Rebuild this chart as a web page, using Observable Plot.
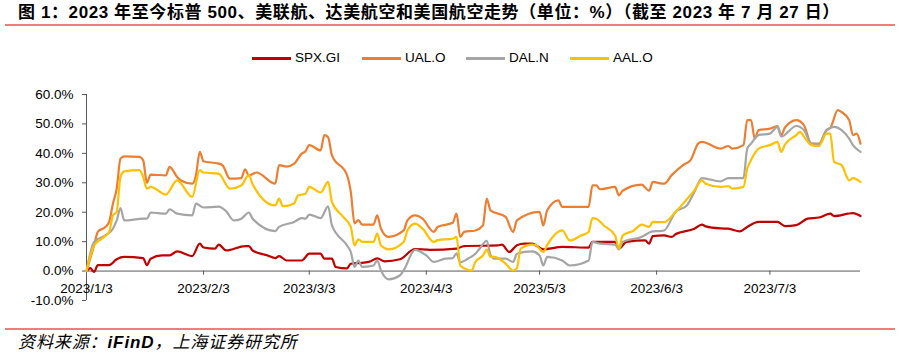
<!DOCTYPE html>
<html><head><meta charset="utf-8">
<script src="https://cdn.jsdelivr.net/npm/d3@7"></script>
<script src="https://cdn.jsdelivr.net/npm/@observablehq/plot@0.6"></script>
<style>
html,body{margin:0;padding:0;background:#fff}
body{width:901px;height:356px;position:relative;overflow:hidden;font-family:"Liberation Sans","Noto Sans CJK SC",sans-serif;color:#000}
#title{position:absolute;left:18px;top:2px;font-size:17px;letter-spacing:0.6px;font-weight:bold;white-space:nowrap;line-height:22px;font-family:"Liberation Sans","Noto Sans CJK SC",sans-serif}
.rule{position:absolute;left:5px;width:890px;height:2px;background:#f37b7b}
.sw{position:absolute;top:57px;width:39px;height:2.5px}
.lt{position:absolute;top:50px;font-size:13.5px;line-height:16px;white-space:nowrap}
#chart{position:absolute;left:0;top:66px}
#source{position:absolute;left:18px;top:331px;font-size:17px;letter-spacing:0.9px;font-style:italic;white-space:nowrap;line-height:20px;font-family:"Noto Sans CJK SC",sans-serif}
#source b{font-family:"Liberation Sans",sans-serif;font-weight:bold}
</style></head>
<body>
<div id="title">图 1：2023 年至今标普 500、美联航、达美航空和美国航空走势（单位：%）（截至 2023 年 7 月 27 日）</div>
<div class="rule" style="top:24px"></div>
<div id="legend"></div>
<div id="chart"></div>
<div class="rule" style="top:328px"></div>
<div id="source">资料来源：<b>iFinD</b>，上海证券研究所</div>
<script>
const seriesNames = ["SPX.GI", "UAL.O", "DAL.N", "AAL.O"];
const seriesColors = ["#C00000", "#ED7D31", "#A5A5A5", "#FFC000"];
const xTickLabels = ["2023/1/3", "2023/2/3", "2023/3/3", "2023/4/3", "2023/5/3", "2023/6/3", "2023/7/3"];
const yTicks = [-10, 0, 10, 20, 30, 40, 50, 60];
const dateRange = ["2023-01-03", "2023-07-27"];

const SPX = [["2023-01-03",0],["2023-01-04",1.0],["2023-01-05",-0.3],["2023-01-06",2.0],["2023-01-09",2.0],["2023-01-11",4.0],["2023-01-13",4.8],["2023-01-18",4.4],["2023-01-19",2.0],["2023-01-20",4.2],["2023-01-23",5.3],["2023-01-25",5.3],["2023-01-27",6.7],["2023-01-31",5.1],["2023-02-02",9.3],["2023-02-03",8.0],["2023-02-06",7.6],["2023-02-07",9.0],["2023-02-09",7.0],["2023-02-14",8.5],["2023-02-15",8.5],["2023-02-16",7.0],["2023-02-20",5.3],["2023-02-22",4.4],["2023-02-23",5.1],["2023-02-25",3.6],["2023-03-01",3.6],["2023-03-03",5.9],["2023-03-06",5.9],["2023-03-07",4.2],["2023-03-09",4.2],["2023-03-10",1.4],["2023-03-13",0.9],["2023-03-14",2.5],["2023-03-17",2.8],["2023-03-19",3.2],["2023-03-21",4.3],["2023-03-23",3.3],["2023-03-27",4.0],["2023-03-31",7.5],["2023-04-04",7.2],["2023-04-11",7.6],["2023-04-13",8.5],["2023-04-22",8.7],["2023-04-23",9.0],["2023-04-25",6.5],["2023-04-27",8.8],["2023-04-29",9.3],["2023-05-01",9.3],["2023-05-04",7.4],["2023-05-09",8.2],["2023-05-16",8.0],["2023-05-17",9.9],["2023-05-23",9.9],["2023-05-24",7.6],["2023-05-26",9.9],["2023-05-31",10.4],["2023-06-01",9.3],["2023-06-02",11.9],["2023-06-05",12.1],["2023-06-07",11.6],["2023-06-08",12.5],["2023-06-13",14.4],["2023-06-15",15.8],["2023-06-16",15.2],["2023-06-20",14.5],["2023-06-22",14.4],["2023-06-25",13.5],["2023-06-27",15.0],["2023-06-30",16.7],["2023-07-05",16.7],["2023-07-07",15.3],["2023-07-10",15.6],["2023-07-13",17.8],["2023-07-16",18.2],["2023-07-19",19.5],["2023-07-20",18.7],["2023-07-25",19.7],["2023-07-27",18.7]];

const UAL = [["2023-01-03",0],["2023-01-05",8.7],["2023-01-06",13.3],["2023-01-08",15.0],["2023-01-09",16.7],["2023-01-10",22.9],["2023-01-11",28.0],["2023-01-12",38.2],["2023-01-13",39.0],["2023-01-17",38.8],["2023-01-18",37.7],["2023-01-19",30.0],["2023-01-20",32.8],["2023-01-24",32.5],["2023-01-25",35.4],["2023-01-27",32.0],["2023-01-28",30.8],["2023-01-31",29.7],["2023-02-01",32.6],["2023-02-02",40.5],["2023-02-03",37.3],["2023-02-07",36.5],["2023-02-08",36.0],["2023-02-10",31.4],["2023-02-13",31.6],["2023-02-14",34.6],["2023-02-15",32.5],["2023-02-17",33.5],["2023-02-22",29.7],["2023-02-23",36.0],["2023-02-25",35.5],["2023-02-27",36.5],["2023-03-01",39.9],["2023-03-02",40.7],["2023-03-03",42.8],["2023-03-06",41.0],["2023-03-07",46.2],["2023-03-08",45.5],["2023-03-09",39.4],["2023-03-13",32.6],["2023-03-14",26.9],["2023-03-15",16.2],["2023-03-16",17.3],["2023-03-17",15.8],["2023-03-20",15.8],["2023-03-21",18.9],["2023-03-22",14.4],["2023-03-24",11.6],["2023-03-28",13.8],["2023-03-29",17.2],["2023-03-31",18.9],["2023-04-02",17.8],["2023-04-05",13.3],["2023-04-06",15.0],["2023-04-10",16.4],["2023-04-11",19.5],["2023-04-12",11.6],["2023-04-13",13.3],["2023-04-16",13.8],["2023-04-18",15.5],["2023-04-19",24.6],["2023-04-20",20.6],["2023-04-24",18.4],["2023-04-26",13.3],["2023-04-27",17.2],["2023-05-03",20.1],["2023-05-04",15.5],["2023-05-05",20.6],["2023-05-08",24.0],["2023-05-09",21.8],["2023-05-16",21.8],["2023-05-17",29.1],["2023-05-18",29.1],["2023-05-19",27.8],["2023-05-23",28.6],["2023-05-24",25.7],["2023-05-25",27.3],["2023-05-30",29.4],["2023-06-01",27.3],["2023-06-02",30.3],["2023-06-04",29.8],["2023-06-05",29.7],["2023-06-07",32.6],["2023-06-10",36.0],["2023-06-12",37.7],["2023-06-14",43.3],["2023-06-15",43.9],["2023-06-20",41.6],["2023-06-22",42.5],["2023-06-23",41.6],["2023-06-26",42.8],["2023-06-27",51.3],["2023-06-28",51.3],["2023-06-29",45.0],["2023-06-30",47.9],["2023-07-03",48.4],["2023-07-05",49.3],["2023-07-06",46.2],["2023-07-07",48.8],["2023-07-10",51.3],["2023-07-12",49.6],["2023-07-14",43.3],["2023-07-16",43.3],["2023-07-18",47.9],["2023-07-19",48.6],["2023-07-21",54.7],["2023-07-22",54.0],["2023-07-24",51.3],["2023-07-25",46.2],["2023-07-26",46.7],["2023-07-27",43.3]];

const DAL = [["2023-01-03",0],["2023-01-05",9.9],["2023-01-08",12.1],["2023-01-10",14.4],["2023-01-11",17.2],["2023-01-12",21.4],["2023-01-13",17.2],["2023-01-18",17.8],["2023-01-19",17.8],["2023-01-20",19.9],["2023-01-24",19.5],["2023-01-25",21.0],["2023-01-27",19.5],["2023-01-31",18.9],["2023-02-01",22.9],["2023-02-03",21.6],["2023-02-07",21.9],["2023-02-09",20.3],["2023-02-11",17.2],["2023-02-13",17.8],["2023-02-15",19.9],["2023-02-16",17.8],["2023-02-22",13.6],["2023-02-23",15.0],["2023-02-27",16.7],["2023-03-01",18.0],["2023-03-02",17.8],["2023-03-03",19.2],["2023-03-06",18.0],["2023-03-08",22.0],["2023-03-09",15.5],["2023-03-13",8.7],["2023-03-14",6.5],["2023-03-15",1.4],["2023-03-16",3.6],["2023-03-17",1.4],["2023-03-20",1.9],["2023-03-21",3.6],["2023-03-22",0.2],["2023-03-24",-2.8],["2023-03-27",-1.5],["2023-03-28",0.2],["2023-03-31",7.2],["2023-04-03",5.3],["2023-04-05",3.1],["2023-04-08",4.2],["2023-04-10",4.4],["2023-04-11",6.0],["2023-04-12",3.0],["2023-04-14",4.2],["2023-04-16",5.9],["2023-04-17",7.4],["2023-04-19",10.3],["2023-04-20",5.5],["2023-04-21",4.2],["2023-04-24",4.2],["2023-04-26",3.1],["2023-04-27",5.9],["2023-05-01",6.7],["2023-05-03",5.3],["2023-05-04",1.9],["2023-05-05",4.8],["2023-05-09",3.6],["2023-05-11",1.9],["2023-05-16",3.6],["2023-05-17",9.9],["2023-05-19",9.3],["2023-05-23",9.0],["2023-05-24",7.4],["2023-05-25",9.9],["2023-05-30",11.6],["2023-06-02",13.5],["2023-06-04",13.6],["2023-06-05",13.8],["2023-06-08",20.1],["2023-06-11",22.3],["2023-06-13",26.9],["2023-06-15",31.6],["2023-06-20",30.5],["2023-06-22",31.6],["2023-06-26",31.6],["2023-06-27",41.6],["2023-06-28",43.3],["2023-06-30",46.2],["2023-07-03",46.7],["2023-07-05",49.0],["2023-07-06",45.7],["2023-07-10",49.3],["2023-07-12",47.9],["2023-07-14",43.3],["2023-07-16",43.1],["2023-07-18",47.9],["2023-07-20",49.0],["2023-07-22",47.9],["2023-07-24",45.0],["2023-07-25",42.8],["2023-07-27",40.5]];

const AAL = [["2023-01-03",0],["2023-01-05",8.7],["2023-01-07",11.0],["2023-01-09",13.3],["2023-01-10",18.9],["2023-01-11",20.1],["2023-01-12",32.0],["2023-01-13",33.9],["2023-01-17",34.3],["2023-01-18",32.0],["2023-01-19",28.0],["2023-01-20",28.6],["2023-01-24",26.0],["2023-01-27",30.8],["2023-01-31",25.2],["2023-02-02",34.3],["2023-02-03",33.5],["2023-02-07",33.1],["2023-02-10",28.0],["2023-02-13",29.1],["2023-02-15",32.6],["2023-02-16",29.5],["2023-02-22",22.3],["2023-02-23",24.6],["2023-02-24",22.1],["2023-02-27",23.0],["2023-02-28",25.7],["2023-03-02",26.3],["2023-03-03",28.6],["2023-03-06",26.7],["2023-03-08",30.3],["2023-03-09",23.5],["2023-03-12",18.4],["2023-03-14",15.0],["2023-03-15",8.7],["2023-03-16",10.8],["2023-03-17",9.9],["2023-03-20",9.9],["2023-03-21",12.7],["2023-03-22",8.7],["2023-03-24",7.4],["2023-03-28",9.9],["2023-03-29",13.8],["2023-03-31",16.1],["2023-04-02",14.4],["2023-04-05",9.9],["2023-04-06",10.5],["2023-04-10",11.0],["2023-04-11",11.6],["2023-04-12",1.9],["2023-04-13",1.0],["2023-04-15",0.2],["2023-04-16",3.1],["2023-04-18",5.3],["2023-04-19",7.3],["2023-04-20",4.8],["2023-04-21",4.8],["2023-04-24",2.5],["2023-04-26",0.2],["2023-04-27",1.0],["2023-04-28",7.6],["2023-05-01",9.0],["2023-05-02",8.8],["2023-05-04",6.5],["2023-05-05",8.8],["2023-05-09",13.8],["2023-05-11",10.4],["2023-05-14",12.1],["2023-05-16",13.3],["2023-05-17",18.0],["2023-05-18",17.8],["2023-05-20",15.5],["2023-05-23",12.1],["2023-05-24",7.6],["2023-05-25",12.1],["2023-05-28",13.8],["2023-05-30",15.8],["2023-06-01",15.0],["2023-06-02",16.7],["2023-06-05",16.6],["2023-06-08",20.1],["2023-06-10",22.9],["2023-06-13",27.4],["2023-06-15",30.8],["2023-06-16",29.7],["2023-06-20",28.6],["2023-06-22",28.9],["2023-06-23",28.0],["2023-06-26",28.6],["2023-06-27",34.8],["2023-06-28",37.7],["2023-06-30",41.6],["2023-07-03",42.8],["2023-07-05",43.9],["2023-07-06",40.5],["2023-07-07",43.0],["2023-07-10",46.2],["2023-07-11",47.3],["2023-07-12",45.7],["2023-07-14",42.8],["2023-07-16",42.5],["2023-07-18",46.7],["2023-07-19",46.7],["2023-07-20",37.1],["2023-07-22",36.0],["2023-07-24",30.8],["2023-07-25",31.6],["2023-07-27",30.3]];

const allSeries = [SPX, UAL, DAL, AAL];

// legend
const legendSwatchX = [252, 362, 466, 570];
const legend = document.getElementById("legend");
seriesNames.forEach((n, i) => {
  const s = document.createElement("div");
  s.className = "sw"; s.style.left = legendSwatchX[i] + "px"; s.style.background = seriesColors[i];
  legend.appendChild(s);
  const t = document.createElement("div");
  t.className = "lt"; t.style.left = (legendSwatchX[i] + 43) + "px"; t.textContent = n;
  legend.appendChild(t);
});

const parseIso = s => new Date(s + "T00:00:00Z");
const parseTick = s => { const [y, m, d] = s.split("/").map(Number); return new Date(Date.UTC(y, m - 1, d)); };
const xTicks = xTickLabels.map(parseTick);
const x0 = parseIso(dateRange[0]), x1 = parseIso(dateRange[1]);
const axisColor = "#595959";

const lineMarks = allSeries.map((data, i) =>
  Plot.line(data, {x: d => parseIso(d[0]), y: d => d[1], stroke: seriesColors[i], strokeWidth: 2.2, curve: "monotone-x"})
);

const chart = Plot.plot({
  width: 901, height: 244,
  marginLeft: 86, marginRight: 41, marginTop: 28, marginBottom: 10,
  style: {fontFamily: "'Liberation Sans', Arial, sans-serif", fontSize: "13.5px", color: "#000", background: "#fff"},
  x: {type: "utc", domain: [x0, x1], axis: null},
  y: {domain: [-10, 60], axis: null},
  marks: [
    Plot.axisY({ticks: yTicks, tickFormat: d => d.toFixed(1) + "%", tickSize: 4, tickPadding: 9, stroke: axisColor, fontSize: 13.5}),
    Plot.ruleX([x0], {y1: -10, y2: 60, stroke: axisColor, strokeWidth: 1}),
    Plot.ruleY([0], {x1: x0, x2: x1, stroke: axisColor, strokeWidth: 1}),
    Plot.ruleX(xTicks, {x: d => d, y1: 0, y2: -1.4, stroke: axisColor}),
    Plot.text(xTicks, {x: d => d, y: 0, dy: 17.5, text: (d, i) => xTickLabels[i], fontSize: 13.5, fill: "#000"}),
    ...lineMarks
  ]
});
document.getElementById("chart").appendChild(chart);
</script>
</body></html>
